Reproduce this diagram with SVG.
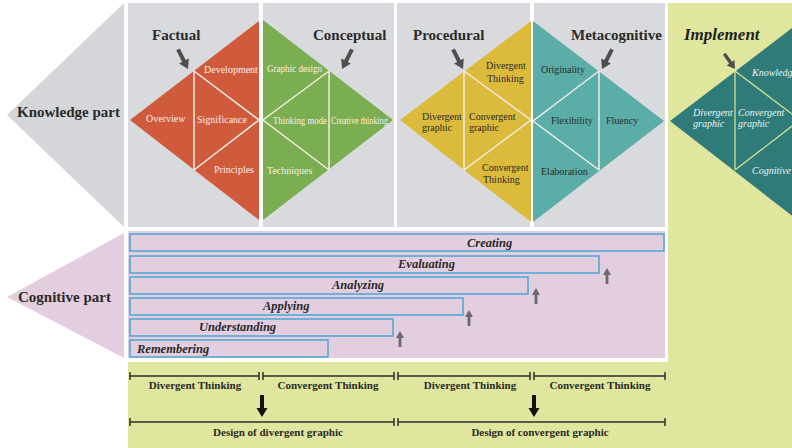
<svg xmlns="http://www.w3.org/2000/svg" width="792" height="448" viewBox="0 0 792 448">
  <style>
    .panel { fill: #d9dadd; }
    .title { font-family: "Liberation Serif", serif; font-weight: bold; font-size: 15px; fill: #2a2a2a; }
    .lbl { font-family: "Liberation Serif", serif; font-size: 10px; }
    .lw { fill: #fbeee8; }
    .ld { fill: #2a2a2a; }
    .li { font-style: italic; fill: #eef3ee; }
    .sep { stroke: #f4ece6; stroke-width: 1.5; fill: none; }
    .bar { fill: none; stroke: #4aa6d6; stroke-width: 1.5; }
    .blbl { font-family: "Liberation Serif", serif; font-weight: bold; font-style: italic; font-size: 12.5px; fill: #2a2a2a; }
    .rule { stroke: #2e2e2e; stroke-width: 1.5; fill: none; }
    .phase { font-family: "Liberation Serif", serif; font-weight: bold; font-size: 11px; fill: #2a2a2a; text-anchor: middle; }
  </style>
  <defs>
    <!-- thick arrow, tip at origin, pointing down -->
    <path id="thick" d="M-2,-22 L2,-22 L2,-9 L5.5,-9 L0,0 L-5.5,-9 L-2,-9 Z"/>
    <!-- small arrow, tip at origin, pointing up -->
    <path id="up" d="M0,0 L4,7 L1.4,7 L1.4,16 L-1.4,16 L-1.4,7 L-4,7 Z" fill="#6a6a6a"/>
  </defs>

  <rect width="792" height="448" fill="#ffffff"/>
  <!-- light green backdrop: implement column and phase strip -->
  <rect x="668" y="3" width="124" height="445" fill="#e0e69d"/>
  <rect x="128" y="362" width="664" height="86" fill="#e0e69d"/>

  <!-- Knowledge part header -->
  <g id="knowledge-part">
    <polygon points="124,3 7,115 124,227" fill="#d5d6d9"/>
    <text class="title" x="17" y="117">Knowledge part</text>
  </g>

  <!-- Factual -->
  <g id="factual">
    <rect class="panel" x="128" y="3" width="131" height="224"/>
    <polygon points="130,120 259,21 259,220" fill="#cf5a3c"/>
    <path class="sep" d="M194,71 V170 M194,71 L259,120 L194,170"/>
    <text class="title" x="152" y="40">Factual</text>
    <text class="lbl lw" x="204" y="73">Development</text>
    <text class="lbl lw" x="146" y="122">Overview</text>
    <text class="lbl lw" x="197" y="123">Significance</text>
    <text class="lbl lw" x="214" y="173">Principles</text>
  </g>

  <!-- Conceptual -->
  <g id="conceptual">
    <rect class="panel" x="263" y="3" width="131" height="224"/>
    <polygon points="263,20 263,220 393,120" fill="#7aae50"/>
    <path class="sep" d="M329,71 V170 M329,71 L263,120 L329,170"/>
    <text class="title" x="313" y="40">Conceptual</text>
    <text class="lbl lw" x="267" y="72" textLength="55" lengthAdjust="spacingAndGlyphs">Graphic design</text>
    <text class="lbl lw" x="273" y="124" textLength="54" lengthAdjust="spacingAndGlyphs">Thinking mode</text>
    <text class="lbl lw" x="331" y="124" textLength="57" lengthAdjust="spacingAndGlyphs">Creative thinking</text>
    <text class="lbl lw" x="267" y="174">Techniques</text>
  </g>

  <!-- Procedural -->
  <g id="procedural">
    <rect class="panel" x="397" y="3" width="133" height="224"/>
    <polygon points="400,120 531,21 531,222" fill="#dcba3c"/>
    <path class="sep" d="M464,71 V170 M464,71 L531,120 L464,170"/>
    <text class="title" x="413" y="40">Procedural</text>
    <text class="lbl ld" x="486" y="69">Divergent</text>
    <text class="lbl ld" x="487" y="82">Thinking</text>
    <text class="lbl ld" x="422" y="120">Divergent</text>
    <text class="lbl ld" x="422" y="131">graphic</text>
    <text class="lbl ld" x="469" y="120">Convergent</text>
    <text class="lbl ld" x="469" y="131">graphic</text>
    <text class="lbl ld" x="482" y="171">Convergent</text>
    <text class="lbl ld" x="483" y="183">Thinking</text>
  </g>

  <!-- Metacognitive -->
  <g id="metacognitive">
    <rect class="panel" x="534" y="3" width="131" height="224"/>
    <polygon points="533,21 533,222 664,121" fill="#5aaea7"/>
    <path class="sep" d="M599,71 V170 M599,71 L533,121 L599,170"/>
    <text class="title" x="571" y="40">Metacognitive</text>
    <text class="lbl ld" x="541" y="73">Originality</text>
    <text class="lbl ld" x="551" y="124">Flexibility</text>
    <text class="lbl ld" x="606" y="124">Fluency</text>
    <text class="lbl ld" x="541" y="175">Elaboration</text>
  </g>

  <!-- Implement -->
  <g id="implement">
    <polygon points="670,121 800,22 800,222" fill="#2f7b7a"/>
    <path d="M735,71 V170 M735,71 L800,120 L735,170" stroke="#d6de93" stroke-width="1.3" fill="none"/>
    <text x="684" y="40" font-family="Liberation Serif, serif" font-weight="bold" font-style="italic" font-size="17" fill="#1e1e1e">Implement</text>
    <text class="lbl li" x="693" y="116">Divergent</text>
    <text class="lbl li" x="693" y="127">graphic</text>
    <text class="lbl li" x="738" y="116">Convergent</text>
    <text class="lbl li" x="738" y="127">graphic</text>
    <text class="lbl li" x="752" y="76">Knowledge</text>
    <text class="lbl li" x="752" y="174">Cognitive</text>
  </g>

  <!-- Cognitive part -->
  <g id="cognitive-part">
    <polygon points="124,233 7,297 124,358" fill="#e3cee0"/>
    <text class="title" x="18" y="302">Cognitive part</text>
  </g>

  <g id="cognitive-levels">
    <rect x="128" y="231" width="537" height="127" fill="#e3cee0"/>
    <rect class="bar" x="130" y="234" width="534" height="17"/>
    <rect class="bar" x="130" y="256" width="469" height="17"/>
    <rect class="bar" x="130" y="277" width="398" height="17"/>
    <rect class="bar" x="130" y="298" width="333" height="17"/>
    <rect class="bar" x="130" y="319" width="263" height="17"/>
    <rect class="bar" x="130" y="340" width="198" height="17"/>
    <text class="blbl" x="467" y="247">Creating</text>
    <text class="blbl" x="398" y="268">Evaluating</text>
    <text class="blbl" x="332" y="289">Analyzing</text>
    <text class="blbl" x="263" y="310">Applying</text>
    <text class="blbl" x="199" y="331">Understanding</text>
    <text class="blbl" x="137" y="353">Remembering</text>
  </g>

  <!-- Phase strip -->
  <g id="phases">
    <path class="rule" d="M130,376 H259 M130,372 V380 M259,372 V380
                          M263,376 H394 M263,372 V380 M394,372 V380
                          M398,376 H530 M398,372 V380 M530,372 V380
                          M534,376 H665 M534,372 V380 M665,372 V380"/>
    <text class="phase" x="195" y="389">Divergent Thinking</text>
    <text class="phase" x="328" y="389">Convergent Thinking</text>
    <text class="phase" x="470" y="389">Divergent Thinking</text>
    <text class="phase" x="600" y="389">Convergent Thinking</text>
    <path class="rule" d="M130,422 H394 M130,418 V426 M394,418 V426
                          M398,422 H665 M398,418 V426 M665,418 V426"/>
    <text class="phase" x="278" y="436">Design of divergent graphic</text>
    <text class="phase" x="540" y="436">Design of convergent graphic</text>
  </g>

  <!-- Connectors -->
  <g id="connectors">
    <use href="#thick" fill="#4e4e4e" transform="translate(188,69) rotate(-27)"/>
    <use href="#thick" fill="#4e4e4e" transform="translate(342,69) rotate(27)"/>
    <use href="#thick" fill="#4e4e4e" transform="translate(463,69) rotate(-27)"/>
    <use href="#thick" fill="#4e4e4e" transform="translate(602,69) rotate(27)"/>
    <use href="#thick" fill="#4e4e4e" transform="translate(735,69) rotate(-35) scale(0.85)"/>
    <use href="#up" transform="translate(607,268)"/>
    <use href="#up" transform="translate(536,288)"/>
    <use href="#up" transform="translate(469,310)"/>
    <use href="#up" transform="translate(400,331)"/>
    <use href="#thick" fill="#111111" transform="translate(262,417)"/>
    <use href="#thick" fill="#111111" transform="translate(534,417)"/>
  </g>
</svg>
